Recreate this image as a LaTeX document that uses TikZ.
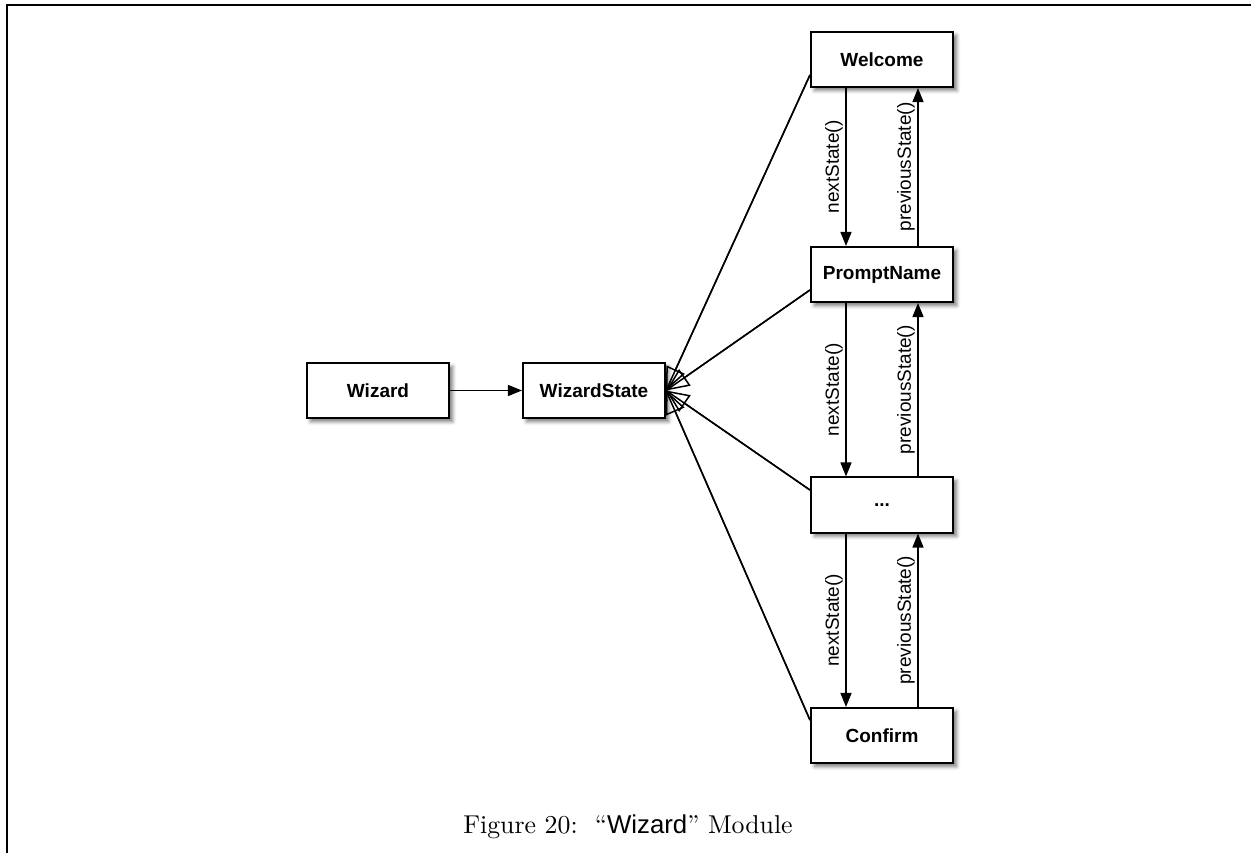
\documentclass[tikz,border=0pt]{standalone}
\usepackage{fontspec}
\newfontfamily\uisans{Liberation Sans}
\usetikzlibrary{arrows.meta,shadows.blur}

\tikzset{
  classbox/.style={draw=black, line width=1.6pt, fill=white,
    minimum width=142.5pt, minimum height=55.5pt, inner sep=0pt,
    font=\uisans\bfseries\fontsize{19}{22}\selectfont,
    blur shadow={shadow xshift=3.5pt, shadow yshift=-3.5pt,
      shadow blur radius=3.5pt, shadow opacity=50}},
  assoc/.style={line width=1.5pt, -{Triangle[length=14pt,width=11pt]}},
  generalize/.style={line width=1.5pt,
    -{Triangle[open,length=23pt,width=20pt,line width=1.5pt]},
    postaction={draw,-}},
  msg/.style={midway, rotate=90, anchor=south, inner sep=2.5pt,
    font=\uisans\fontsize{19}{23}\selectfont},
  frameline/.style={line width=2.2pt, line cap=rect}
}

\begin{document}
\begin{tikzpicture}[x=1pt, y=-1pt]
  \useasboundingbox (0,0) rectangle (1251,853);

  % page frame (open at the bottom and right)
  \coordinate (fTop) at (1251,5);
  \coordinate (fCorner) at (7,5);
  \coordinate (fBottom) at (7,860);
  \draw[frameline] (fTop) -- (fCorner) -- (fBottom);

  % classes
  \node[classbox] (wizard)   at (378,390.5) {Wizard};
  \node[classbox] (wstate)   at (594,390.5) {WizardState};
  \node[classbox] (welcome)  at (882,59.5)  {Welcome};
  \node[classbox] (prompt)   at (882,274.5) {PromptName};
  \node[classbox] (more)     at (882,505)   {...};
  \node[classbox] (confirm)  at (882,735.5) {Confirm};

  % association
  \draw[assoc] (wizard) -- (wstate);

  % generalizations into WizardState
  \draw[generalize] ([yshift=-15.5pt]welcome.west) -- (wstate.east);
  \draw[generalize] ([yshift=-15.5pt]prompt.west)  -- (wstate.east);
  \draw[generalize] ([yshift=15pt]more.west)       -- (wstate.east);
  \draw[generalize] ([yshift=15.5pt]confirm.west)  -- (wstate.east);

  % state transitions
  \draw[assoc] ([xshift=-36pt]welcome.south) -- ([xshift=-36pt]prompt.north)
    node[msg] {nextState()};
  \draw[assoc] ([xshift=36pt]prompt.north) -- ([xshift=36pt]welcome.south)
    node[msg] {previousState()};

  \draw[assoc] ([xshift=-36pt]prompt.south) -- ([xshift=-36pt]more.north)
    node[msg] {nextState()};
  \draw[assoc] ([xshift=36pt]more.north) -- ([xshift=36pt]prompt.south)
    node[msg] {previousState()};

  \draw[assoc] ([xshift=-36pt]more.south) -- ([xshift=-36pt]confirm.north)
    node[msg] {nextState()};
  \draw[assoc] ([xshift=36pt]confirm.north) -- ([xshift=36pt]more.south)
    node[msg] {previousState()};

  % caption, set at 10pt and enlarged
  \node[anchor=base, inner sep=0pt, scale=2.58, transform shape,
        font=\fontsize{10}{12}\selectfont]
    (caption) at (628,833) {Figure 20:\ \ “{\uisans Wizard}” Module};
\end{tikzpicture}
\end{document}
